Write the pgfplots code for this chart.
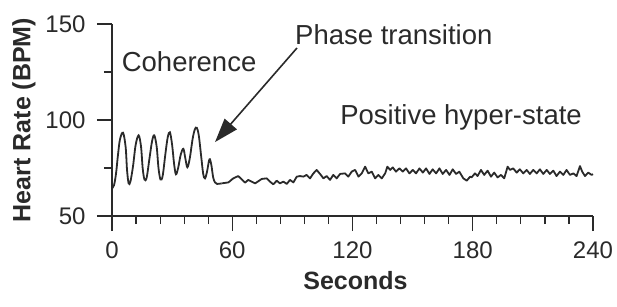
\documentclass[border=0pt]{standalone}
\usepackage{pgfplots}
\pgfplotsset{compat=1.18}
\usepackage{fontspec}
\setmainfont{Liberation Sans}
\usetikzlibrary{arrows.meta}
\definecolor{ink}{HTML}{2A2A2A}
\begin{document}
\begin{tikzpicture}
\begin{axis}[
  scale only axis,
  width=481pt, height=192pt,
  xmin=0, xmax=240, ymin=50, ymax=150,
  axis lines*=left,
  axis line style={ink, line width=1.3pt},
  xtick={0,60,120,180,240},
  ytick={50,100,150},
  minor xtick={12,24,36,48,72,84,96,108,132,144,156,168,192,204,216,228},
  minor ytick={75,125},
  tick align=outside,
  major tick length=15pt,
  minor tick length=8pt,
  tick style={ink, line width=1.2pt},
  /pgf/number format/assume math mode=true,
  ticklabel style={font=\fontsize{24}{28}\selectfont, text=ink},
  x tick label style={yshift=-7pt},
  y tick label style={xshift=-8pt},
  xlabel={Seconds},
  ylabel={Heart Rate (BPM)},
  label style={font=\fontsize{25}{30}\selectfont\bfseries, text=ink, inner sep=0pt},
  xlabel style={at={(axis description cs:0.5,0)}, anchor=north, yshift=-55pt, xshift=3pt},
  ylabel style={at={(axis description cs:0,0.5)}, anchor=center, yshift=88pt},
  clip=false,
]
\addplot[ink, line width=1.8pt, smooth, tension=0.55] coordinates {
(0,64.5) (1,66) (2,72) (3,82) (4,90) (5.5,93.4) (6.8,86) (7.5,74) (8.3,67)
(9.2,68) (10.5,76) (11.8,87) (13.3,92) (14.5,86) (15.3,75) (16.2,69)
(17.3,70) (18.7,80) (20,89) (21.1,92) (22.3,86) (23.2,75) (24.2,69)
(25.3,71) (26.6,82) (27.8,91) (28.9,93.6) (30,87) (31,77) (31.9,71.7)
(33,75) (34.3,82) (35.6,85) (36.6,80) (37.6,75.4) (38.8,80) (40.2,90)
(41.3,95) (42.3,96) (43.3,92) (44.4,82) (45.5,72) (46.4,69.6) (47.4,73)
(48.6,79.5) (49.5,77) (50.5,70) (51.4,67.5) (52.4,66.7) (54.7,67.0)
};
\addplot[ink, line width=1.8pt, line join=round] coordinates {
(54.7,67.0) (58.1,67.5) (60.5,69.6) (63.0,70.8) (64.7,69.1) (66.4,67.4)
(68.0,68.8) (71.4,67.0) (74.7,69.3) (77.2,69.6) (78.8,67.9) (80.5,66.5)
(82.2,68.4) (83.8,67.0) (85.5,67.9) (87.2,66.7) (88.8,68.8) (90.5,67.5)
(92.2,70.5) (93.8,70.8) (95.5,70.5) (97.1,71.4) (98.8,69.6) (100.5,72.2)
(102.1,74.0) (103.8,71.9) (105.5,69.6) (107.1,70.8) (108.8,68.8)
(110.4,71.4) (112.1,69.6) (113.8,71.9) (116.3,72.2) (117.9,70.5)
(119.6,73.1) (121.3,74.0) (123.0,70.5) (124.6,72.2) (126.3,75.7)
(127.9,72.2) (129.6,73.1) (131.3,69.6) (132.9,71.4) (134.6,69.6)
(136.3,72.2) (137.4,75.7) (138.8,74.0) (140.1,75.3) (141.7,73.1)
(143.4,74.8) (145.1,73.1) (146.7,74.8) (148.4,72.2) (150.1,74.0)
(151.7,72.2) (153.4,74.8) (155.1,72.6) (156.7,74.8) (158.4,71.9)
(160.0,74.3) (161.7,72.2) (163.4,74.8) (165.0,71.9) (166.7,74.0)
(168.4,71.4) (170.0,74.3) (171.7,71.9) (173.3,73.1) (175.3,69.6)
(177.0,68.4) (178.7,70.5) (179.4,70.1) (181.1,72.2) (182.4,70.8)
(184.1,74.0) (185.7,71.4) (187.4,73.6) (189.1,70.5) (190.7,72.6)
(192.4,70.1) (194.1,71.4) (195.7,69.6) (197.4,75.7) (198.6,74.0)
(200.2,74.8) (201.9,72.6) (203.5,74.3) (205.2,72.2) (206.9,74.0)
(208.5,71.9) (210.2,74.0) (211.9,72.2) (213.5,74.3) (215.2,71.9)
(216.9,74.0) (218.5,71.9) (220.2,73.6) (221.8,70.8) (223.5,73.1)
(225.2,71.4) (226.8,74.0) (228.5,71.4) (230.2,72.2) (231.8,70.8)
(233.5,76.0) (234.6,73.1) (236.0,70.8) (237.6,72.6) (239.3,71.4) (240,71.8)
};
\node[anchor=west, text=ink, font=\fontsize{27.5}{32}\selectfont, inner sep=0pt] at (axis cs:4.8,130.2) {Coherence};
\node[anchor=west, text=ink, font=\fontsize{27.5}{32}\selectfont, inner sep=0pt] at (axis cs:91.3,144.3) {Phase transition};
\node[anchor=west, text=ink, font=\fontsize{27.5}{32}\selectfont, inner sep=0pt] at (axis cs:113.8,101.5) {Positive hyper-state};
\draw[ink, line width=1.6pt, -{Triangle[length=24pt,width=16pt]}] (axis cs:92.3,137.5) -- (axis cs:51.4,88.5);
\end{axis}
\pgfresetboundingbox
\path ([shift={(-112pt,-91pt)}]current axis.south west) rectangle ++(617pt,307pt);
\end{tikzpicture}
\end{document}
